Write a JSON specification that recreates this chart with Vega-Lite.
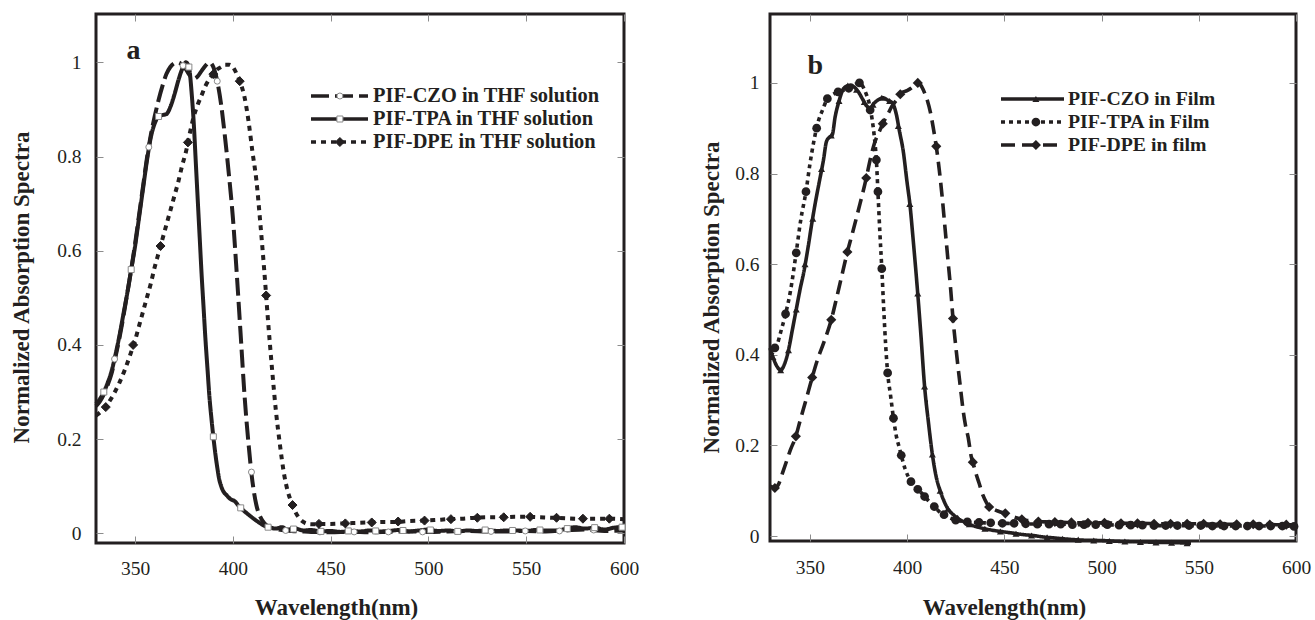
{
  "$schema": "https://vega.github.io/schema/vega-lite/v6.json",
  "background": "white",
  "padding": {"left": 8, "top": 12, "right": 5, "bottom": 2},
  "config": {
    "view": {"stroke": "#231f20", "strokeWidth": 3},
    "axis": {"domain": false, "grid": false, "tickColor": "#8c8c8c", "tickWidth": 1, "tickSize": -7, "labelFont": "Liberation Serif", "labelFontSize": 19.5, "labelColor": "#231f20", "titleFont": "Liberation Serif", "titleFontSize": 23, "titleFontWeight": "bold", "titleColor": "#231f20", "labelFlush": false, "labelOverlap": false},
    "legend": {"labelFont": "Liberation Serif", "labelFontSize": 19.8, "labelFontWeight": "bold", "labelColor": "#231f20", "labelLimit": 500, "padding": 0, "rowPadding": 0, "clipHeight": 23}
  },
  "spacing": 146,
  "bounds": "flush",
  "resolve": {
    "scale": {"x": "independent", "y": "independent", "strokeDash": "independent", "shape": "independent", "fill": "independent", "stroke": "independent"},
    "legend": {"strokeDash": "independent", "shape": "independent", "fill": "independent", "stroke": "independent"},
    "axis": {"x": "independent", "y": "independent"}
  },
  "hconcat": [
    {
      "width": 528,
      "height": 529,
      "resolve": {"axis": {"x": "independent", "y": "independent"}},
      "layer": [
        {
          "data": {"name": "aLines"},
          "mark": {"type": "line", "color": "#231f20", "strokeWidth": 4, "interpolate": "monotone", "strokeCap": "butt"},
          "encoding": {
            "x": {"field": "wavelength", "type": "quantitative", "scale": {"domain": [330, 600], "nice": false, "zero": false},
              "axis": {"orient": "bottom", "values": [350, 400, 450, 500, 550, 600], "title": "Wavelength(nm)", "titleX": 240, "titleY": 71, "titleBaseline": "alphabetic", "labelPadding": 23}},
            "y": {"field": "absorbance", "type": "quantitative", "scale": {"domain": [-0.0206, 1.1026], "nice": false, "zero": false},
              "axis": {"orient": "left", "values": [0, 0.2, 0.4, 0.6, 0.8, 1], "format": "~g", "title": "Normalized Absorption Spectra", "titleX": -75, "titleY": 273, "titleBaseline": "middle", "labelPadding": 22}},
            "strokeDash": {"field": "series", "type": "nominal",
              "sort": ["PIF-CZO in THF solution", "PIF-TPA in THF solution", "PIF-DPE in THF solution"],
              "scale": {"range": [[18, 6], [1, 0], [5, 5]]},
              "legend": {"orient": "none", "legendX": 213, "legendY": 70.5, "title": null, "symbolType": "stroke", "symbolSize": 3249, "symbolStrokeWidth": 3.5, "symbolStrokeColor": "#231f20", "labelOffset": 3, "labelFontSize": 20.4}}
          }
        },
        {
          "data": {"name": "aMarks"},
          "mark": {"type": "point", "filled": true, "opacity": 1, "strokeWidth": 1, "size": 36},
          "encoding": {
            "x": {"field": "wavelength", "type": "quantitative", "scale": {"domain": [330, 600], "nice": false, "zero": false},
              "axis": {"orient": "top", "values": [350, 400, 450, 500, 550, 600], "labels": false, "title": "a", "titleX": 30, "titleY": 44, "titleAlign": "left", "titleBaseline": "alphabetic", "titleFontSize": 28}},
            "y": {"field": "absorbance", "type": "quantitative", "scale": {"domain": [-0.0206, 1.1026], "nice": false, "zero": false},
              "axis": {"orient": "right", "values": [0, 0.2, 0.4, 0.6, 0.8, 1], "labels": false, "title": null}},
            "shape": {"field": "curve", "type": "nominal",
              "scale": {"domain": ["PIF-CZO in THF solution", "PIF-TPA in THF solution", "PIF-DPE in THF solution"], "range": ["circle", "square", "M0,-1.5L1.5,0L0,1.5L-1.5,0Z"]},
              "legend": {"orient": "none", "legendX": 234, "legendY": 70.5, "title": null, "labelExpr": "''", "symbolSize": 36, "symbolStrokeWidth": 1}},
            "fill": {"field": "curve", "type": "nominal",
              "scale": {"domain": ["PIF-CZO in THF solution", "PIF-TPA in THF solution", "PIF-DPE in THF solution"], "range": ["#ffffff", "#ffffff", "#231f20"]}},
            "stroke": {"field": "curve", "type": "nominal",
              "scale": {"domain": ["PIF-CZO in THF solution", "PIF-TPA in THF solution", "PIF-DPE in THF solution"], "range": ["#8a8a8a", "#8a8a8a", "#231f20"]}}
          }
        }
      ]
    },
    {
      "width": 526,
      "height": 527,
      "resolve": {"axis": {"x": "independent", "y": "independent"}},
      "layer": [
        {
          "data": {"name": "bLines"},
          "mark": {"type": "line", "color": "#231f20", "strokeWidth": 3.6, "interpolate": "monotone", "strokeCap": "butt"},
          "encoding": {
            "x": {"field": "wavelength", "type": "quantitative", "scale": {"domain": [329.5, 600], "nice": false, "zero": false},
              "axis": {"orient": "bottom", "values": [350, 400, 450, 500, 550, 600], "title": "Wavelength(nm)", "titleX": 234, "titleY": 73, "titleBaseline": "alphabetic", "labelPadding": 24}},
            "y": {"field": "absorbance", "type": "quantitative", "scale": {"domain": [-0.011, 1.152], "nice": false, "zero": false},
              "axis": {"orient": "left", "values": [0, 0.2, 0.4, 0.6, 0.8, 1], "format": "~g", "title": "Normalized Absorption Spectra", "titleX": -59, "titleY": 283, "titleBaseline": "middle", "labelPadding": 18}},
            "strokeDash": {"field": "series", "type": "nominal",
              "scale": {"domain": ["PIF-CZO in Film", "PIF-TPA in Film", "PIF-DPE in film"], "range": [[1, 0], [4, 4], [14, 7]]},
              "legend": {"orient": "none", "legendX": 229, "legendY": 73.5, "title": null, "symbolType": "stroke", "symbolSize": 3969, "symbolStrokeWidth": 3.5, "symbolStrokeColor": "#231f20", "labelOffset": 2}}
          }
        },
        {
          "data": {"name": "bMarks"},
          "mark": {"type": "point", "filled": true, "opacity": 1, "color": "#231f20", "size": 49},
          "encoding": {
            "x": {"field": "wavelength", "type": "quantitative", "scale": {"domain": [329.5, 600], "nice": false, "zero": false},
              "axis": {"orient": "top", "values": [350, 400, 450, 500, 550, 600], "labels": false, "title": "b", "titleX": 37, "titleY": 59, "titleAlign": "left", "titleBaseline": "alphabetic", "titleFontSize": 28}},
            "y": {"field": "absorbance", "type": "quantitative", "scale": {"domain": [-0.011, 1.152], "nice": false, "zero": false},
              "axis": {"orient": "right", "values": [0, 0.2, 0.4, 0.6, 0.8, 1], "labels": false, "title": null}},
            "shape": {"field": "curve", "type": "nominal", "sort": ["PIF-CZO in Film", "PIF-TPA in Film", "PIF-DPE in film"],
              "scale": {"range": ["triangle-up", "M1.25,0A1.25,1.25,0,1,1,-1.25,0A1.25,1.25,0,1,1,1.25,0Z", "M0,-1.45L1.45,0L0,1.45L-1.45,0Z"]},
              "legend": {"orient": "none", "legendX": 256, "legendY": 73.5, "title": null, "labelExpr": "''", "symbolSize": 49, "symbolFillColor": "#231f20", "symbolStrokeWidth": 0}}
          }
        }
      ]
    }
  ],
  "datasets": {
    "aLines": [
      {"series": "PIF-CZO in THF solution", "wavelength": 330, "absorbance": 0.27},
      {"series": "PIF-CZO in THF solution", "wavelength": 332, "absorbance": 0.28},
      {"series": "PIF-CZO in THF solution", "wavelength": 334, "absorbance": 0.295},
      {"series": "PIF-CZO in THF solution", "wavelength": 336, "absorbance": 0.315},
      {"series": "PIF-CZO in THF solution", "wavelength": 338, "absorbance": 0.34},
      {"series": "PIF-CZO in THF solution", "wavelength": 340, "absorbance": 0.375},
      {"series": "PIF-CZO in THF solution", "wavelength": 342, "absorbance": 0.415},
      {"series": "PIF-CZO in THF solution", "wavelength": 344, "absorbance": 0.46},
      {"series": "PIF-CZO in THF solution", "wavelength": 346, "absorbance": 0.51},
      {"series": "PIF-CZO in THF solution", "wavelength": 348, "absorbance": 0.56},
      {"series": "PIF-CZO in THF solution", "wavelength": 350, "absorbance": 0.615},
      {"series": "PIF-CZO in THF solution", "wavelength": 352, "absorbance": 0.675},
      {"series": "PIF-CZO in THF solution", "wavelength": 354, "absorbance": 0.735},
      {"series": "PIF-CZO in THF solution", "wavelength": 356, "absorbance": 0.795},
      {"series": "PIF-CZO in THF solution", "wavelength": 358, "absorbance": 0.845},
      {"series": "PIF-CZO in THF solution", "wavelength": 360, "absorbance": 0.885},
      {"series": "PIF-CZO in THF solution", "wavelength": 362, "absorbance": 0.92},
      {"series": "PIF-CZO in THF solution", "wavelength": 364, "absorbance": 0.95},
      {"series": "PIF-CZO in THF solution", "wavelength": 366, "absorbance": 0.975},
      {"series": "PIF-CZO in THF solution", "wavelength": 368, "absorbance": 0.99},
      {"series": "PIF-CZO in THF solution", "wavelength": 370, "absorbance": 0.998},
      {"series": "PIF-CZO in THF solution", "wavelength": 372, "absorbance": 1.0},
      {"series": "PIF-CZO in THF solution", "wavelength": 374, "absorbance": 0.995},
      {"series": "PIF-CZO in THF solution", "wavelength": 376, "absorbance": 0.985},
      {"series": "PIF-CZO in THF solution", "wavelength": 378, "absorbance": 0.972},
      {"series": "PIF-CZO in THF solution", "wavelength": 380, "absorbance": 0.965},
      {"series": "PIF-CZO in THF solution", "wavelength": 382, "absorbance": 0.97},
      {"series": "PIF-CZO in THF solution", "wavelength": 384, "absorbance": 0.982},
      {"series": "PIF-CZO in THF solution", "wavelength": 386, "absorbance": 0.993},
      {"series": "PIF-CZO in THF solution", "wavelength": 388, "absorbance": 1.0},
      {"series": "PIF-CZO in THF solution", "wavelength": 390, "absorbance": 0.99},
      {"series": "PIF-CZO in THF solution", "wavelength": 392, "absorbance": 0.96},
      {"series": "PIF-CZO in THF solution", "wavelength": 394, "absorbance": 0.91},
      {"series": "PIF-CZO in THF solution", "wavelength": 396, "absorbance": 0.84},
      {"series": "PIF-CZO in THF solution", "wavelength": 398, "absorbance": 0.76},
      {"series": "PIF-CZO in THF solution", "wavelength": 400, "absorbance": 0.67},
      {"series": "PIF-CZO in THF solution", "wavelength": 402, "absorbance": 0.55},
      {"series": "PIF-CZO in THF solution", "wavelength": 404, "absorbance": 0.42},
      {"series": "PIF-CZO in THF solution", "wavelength": 406, "absorbance": 0.29},
      {"series": "PIF-CZO in THF solution", "wavelength": 408, "absorbance": 0.19},
      {"series": "PIF-CZO in THF solution", "wavelength": 410, "absorbance": 0.11},
      {"series": "PIF-CZO in THF solution", "wavelength": 412, "absorbance": 0.06},
      {"series": "PIF-CZO in THF solution", "wavelength": 414, "absorbance": 0.035},
      {"series": "PIF-CZO in THF solution", "wavelength": 416, "absorbance": 0.022},
      {"series": "PIF-CZO in THF solution", "wavelength": 418, "absorbance": 0.015},
      {"series": "PIF-CZO in THF solution", "wavelength": 421, "absorbance": 0.01},
      {"series": "PIF-CZO in THF solution", "wavelength": 425, "absorbance": 0.007},
      {"series": "PIF-CZO in THF solution", "wavelength": 430, "absorbance": 0.005},
      {"series": "PIF-CZO in THF solution", "wavelength": 435, "absorbance": 0.004},
      {"series": "PIF-CZO in THF solution", "wavelength": 440, "absorbance": 0.003},
      {"series": "PIF-CZO in THF solution", "wavelength": 445, "absorbance": 0.003},
      {"series": "PIF-CZO in THF solution", "wavelength": 450, "absorbance": 0.002},
      {"series": "PIF-CZO in THF solution", "wavelength": 460, "absorbance": 0.003},
      {"series": "PIF-CZO in THF solution", "wavelength": 470, "absorbance": 0.002},
      {"series": "PIF-CZO in THF solution", "wavelength": 480, "absorbance": 0.003},
      {"series": "PIF-CZO in THF solution", "wavelength": 490, "absorbance": 0.004},
      {"series": "PIF-CZO in THF solution", "wavelength": 500, "absorbance": 0.003},
      {"series": "PIF-CZO in THF solution", "wavelength": 510, "absorbance": 0.004},
      {"series": "PIF-CZO in THF solution", "wavelength": 520, "absorbance": 0.005},
      {"series": "PIF-CZO in THF solution", "wavelength": 530, "absorbance": 0.004},
      {"series": "PIF-CZO in THF solution", "wavelength": 540, "absorbance": 0.004},
      {"series": "PIF-CZO in THF solution", "wavelength": 550, "absorbance": 0.005},
      {"series": "PIF-CZO in THF solution", "wavelength": 560, "absorbance": 0.004},
      {"series": "PIF-CZO in THF solution", "wavelength": 570, "absorbance": 0.006},
      {"series": "PIF-CZO in THF solution", "wavelength": 580, "absorbance": 0.008},
      {"series": "PIF-CZO in THF solution", "wavelength": 590, "absorbance": 0.005},
      {"series": "PIF-CZO in THF solution", "wavelength": 600, "absorbance": 0.006},
      {"series": "PIF-TPA in THF solution", "wavelength": 330, "absorbance": 0.275},
      {"series": "PIF-TPA in THF solution", "wavelength": 332, "absorbance": 0.285},
      {"series": "PIF-TPA in THF solution", "wavelength": 334, "absorbance": 0.3},
      {"series": "PIF-TPA in THF solution", "wavelength": 336, "absorbance": 0.32},
      {"series": "PIF-TPA in THF solution", "wavelength": 338, "absorbance": 0.345},
      {"series": "PIF-TPA in THF solution", "wavelength": 340, "absorbance": 0.38},
      {"series": "PIF-TPA in THF solution", "wavelength": 342, "absorbance": 0.42},
      {"series": "PIF-TPA in THF solution", "wavelength": 344, "absorbance": 0.465},
      {"series": "PIF-TPA in THF solution", "wavelength": 346, "absorbance": 0.51},
      {"series": "PIF-TPA in THF solution", "wavelength": 348, "absorbance": 0.56},
      {"series": "PIF-TPA in THF solution", "wavelength": 350, "absorbance": 0.61},
      {"series": "PIF-TPA in THF solution", "wavelength": 352, "absorbance": 0.67},
      {"series": "PIF-TPA in THF solution", "wavelength": 354, "absorbance": 0.73},
      {"series": "PIF-TPA in THF solution", "wavelength": 356, "absorbance": 0.79},
      {"series": "PIF-TPA in THF solution", "wavelength": 358, "absorbance": 0.84},
      {"series": "PIF-TPA in THF solution", "wavelength": 360, "absorbance": 0.87},
      {"series": "PIF-TPA in THF solution", "wavelength": 362, "absorbance": 0.885},
      {"series": "PIF-TPA in THF solution", "wavelength": 364, "absorbance": 0.888},
      {"series": "PIF-TPA in THF solution", "wavelength": 366, "absorbance": 0.89},
      {"series": "PIF-TPA in THF solution", "wavelength": 368, "absorbance": 0.905},
      {"series": "PIF-TPA in THF solution", "wavelength": 370, "absorbance": 0.93},
      {"series": "PIF-TPA in THF solution", "wavelength": 372, "absorbance": 0.96},
      {"series": "PIF-TPA in THF solution", "wavelength": 374, "absorbance": 0.985},
      {"series": "PIF-TPA in THF solution", "wavelength": 376, "absorbance": 1.0},
      {"series": "PIF-TPA in THF solution", "wavelength": 377.5, "absorbance": 0.99},
      {"series": "PIF-TPA in THF solution", "wavelength": 379, "absorbance": 0.93},
      {"series": "PIF-TPA in THF solution", "wavelength": 380, "absorbance": 0.87},
      {"series": "PIF-TPA in THF solution", "wavelength": 381, "absorbance": 0.79},
      {"series": "PIF-TPA in THF solution", "wavelength": 382, "absorbance": 0.71},
      {"series": "PIF-TPA in THF solution", "wavelength": 383, "absorbance": 0.63},
      {"series": "PIF-TPA in THF solution", "wavelength": 384, "absorbance": 0.55},
      {"series": "PIF-TPA in THF solution", "wavelength": 385, "absorbance": 0.48},
      {"series": "PIF-TPA in THF solution", "wavelength": 386, "absorbance": 0.41},
      {"series": "PIF-TPA in THF solution", "wavelength": 387, "absorbance": 0.35},
      {"series": "PIF-TPA in THF solution", "wavelength": 388, "absorbance": 0.29},
      {"series": "PIF-TPA in THF solution", "wavelength": 389, "absorbance": 0.245},
      {"series": "PIF-TPA in THF solution", "wavelength": 390, "absorbance": 0.205},
      {"series": "PIF-TPA in THF solution", "wavelength": 391, "absorbance": 0.17},
      {"series": "PIF-TPA in THF solution", "wavelength": 392, "absorbance": 0.14},
      {"series": "PIF-TPA in THF solution", "wavelength": 393, "absorbance": 0.115},
      {"series": "PIF-TPA in THF solution", "wavelength": 394, "absorbance": 0.1},
      {"series": "PIF-TPA in THF solution", "wavelength": 395, "absorbance": 0.09},
      {"series": "PIF-TPA in THF solution", "wavelength": 397, "absorbance": 0.08},
      {"series": "PIF-TPA in THF solution", "wavelength": 399, "absorbance": 0.072},
      {"series": "PIF-TPA in THF solution", "wavelength": 401, "absorbance": 0.068},
      {"series": "PIF-TPA in THF solution", "wavelength": 403, "absorbance": 0.058},
      {"series": "PIF-TPA in THF solution", "wavelength": 405, "absorbance": 0.05},
      {"series": "PIF-TPA in THF solution", "wavelength": 407, "absorbance": 0.043},
      {"series": "PIF-TPA in THF solution", "wavelength": 410, "absorbance": 0.033},
      {"series": "PIF-TPA in THF solution", "wavelength": 413, "absorbance": 0.024},
      {"series": "PIF-TPA in THF solution", "wavelength": 416, "absorbance": 0.016},
      {"series": "PIF-TPA in THF solution", "wavelength": 419, "absorbance": 0.012},
      {"series": "PIF-TPA in THF solution", "wavelength": 422, "absorbance": 0.01},
      {"series": "PIF-TPA in THF solution", "wavelength": 425, "absorbance": 0.013},
      {"series": "PIF-TPA in THF solution", "wavelength": 428, "absorbance": 0.008},
      {"series": "PIF-TPA in THF solution", "wavelength": 432, "absorbance": 0.01},
      {"series": "PIF-TPA in THF solution", "wavelength": 436, "absorbance": 0.006},
      {"series": "PIF-TPA in THF solution", "wavelength": 440, "absorbance": 0.007},
      {"series": "PIF-TPA in THF solution", "wavelength": 445, "absorbance": 0.004},
      {"series": "PIF-TPA in THF solution", "wavelength": 450, "absorbance": 0.005},
      {"series": "PIF-TPA in THF solution", "wavelength": 455, "absorbance": 0.003},
      {"series": "PIF-TPA in THF solution", "wavelength": 460, "absorbance": 0.005},
      {"series": "PIF-TPA in THF solution", "wavelength": 465, "absorbance": 0.004},
      {"series": "PIF-TPA in THF solution", "wavelength": 470, "absorbance": 0.006},
      {"series": "PIF-TPA in THF solution", "wavelength": 475, "absorbance": 0.004},
      {"series": "PIF-TPA in THF solution", "wavelength": 480, "absorbance": 0.005},
      {"series": "PIF-TPA in THF solution", "wavelength": 485, "absorbance": 0.007},
      {"series": "PIF-TPA in THF solution", "wavelength": 490, "absorbance": 0.004},
      {"series": "PIF-TPA in THF solution", "wavelength": 495, "absorbance": 0.006},
      {"series": "PIF-TPA in THF solution", "wavelength": 500, "absorbance": 0.008},
      {"series": "PIF-TPA in THF solution", "wavelength": 505, "absorbance": 0.005},
      {"series": "PIF-TPA in THF solution", "wavelength": 510, "absorbance": 0.006},
      {"series": "PIF-TPA in THF solution", "wavelength": 515, "absorbance": 0.004},
      {"series": "PIF-TPA in THF solution", "wavelength": 520, "absorbance": 0.006},
      {"series": "PIF-TPA in THF solution", "wavelength": 525, "absorbance": 0.005},
      {"series": "PIF-TPA in THF solution", "wavelength": 530, "absorbance": 0.007},
      {"series": "PIF-TPA in THF solution", "wavelength": 535, "absorbance": 0.005},
      {"series": "PIF-TPA in THF solution", "wavelength": 540, "absorbance": 0.006},
      {"series": "PIF-TPA in THF solution", "wavelength": 545, "absorbance": 0.006},
      {"series": "PIF-TPA in THF solution", "wavelength": 550, "absorbance": 0.005},
      {"series": "PIF-TPA in THF solution", "wavelength": 555, "absorbance": 0.007},
      {"series": "PIF-TPA in THF solution", "wavelength": 560, "absorbance": 0.006},
      {"series": "PIF-TPA in THF solution", "wavelength": 565, "absorbance": 0.006},
      {"series": "PIF-TPA in THF solution", "wavelength": 570, "absorbance": 0.009},
      {"series": "PIF-TPA in THF solution", "wavelength": 575, "absorbance": 0.013},
      {"series": "PIF-TPA in THF solution", "wavelength": 580, "absorbance": 0.01},
      {"series": "PIF-TPA in THF solution", "wavelength": 585, "absorbance": 0.012},
      {"series": "PIF-TPA in THF solution", "wavelength": 590, "absorbance": 0.008},
      {"series": "PIF-TPA in THF solution", "wavelength": 595, "absorbance": 0.012},
      {"series": "PIF-TPA in THF solution", "wavelength": 600, "absorbance": 0.014},
      {"series": "PIF-DPE in THF solution", "wavelength": 330, "absorbance": 0.25},
      {"series": "PIF-DPE in THF solution", "wavelength": 333, "absorbance": 0.26},
      {"series": "PIF-DPE in THF solution", "wavelength": 336, "absorbance": 0.275},
      {"series": "PIF-DPE in THF solution", "wavelength": 339, "absorbance": 0.295},
      {"series": "PIF-DPE in THF solution", "wavelength": 342, "absorbance": 0.32},
      {"series": "PIF-DPE in THF solution", "wavelength": 345, "absorbance": 0.35},
      {"series": "PIF-DPE in THF solution", "wavelength": 348, "absorbance": 0.385},
      {"series": "PIF-DPE in THF solution", "wavelength": 350, "absorbance": 0.41},
      {"series": "PIF-DPE in THF solution", "wavelength": 352, "absorbance": 0.44},
      {"series": "PIF-DPE in THF solution", "wavelength": 354, "absorbance": 0.47},
      {"series": "PIF-DPE in THF solution", "wavelength": 356, "absorbance": 0.5},
      {"series": "PIF-DPE in THF solution", "wavelength": 358, "absorbance": 0.53},
      {"series": "PIF-DPE in THF solution", "wavelength": 360, "absorbance": 0.565},
      {"series": "PIF-DPE in THF solution", "wavelength": 362, "absorbance": 0.595},
      {"series": "PIF-DPE in THF solution", "wavelength": 364, "absorbance": 0.625},
      {"series": "PIF-DPE in THF solution", "wavelength": 366, "absorbance": 0.655},
      {"series": "PIF-DPE in THF solution", "wavelength": 368, "absorbance": 0.685},
      {"series": "PIF-DPE in THF solution", "wavelength": 370, "absorbance": 0.715},
      {"series": "PIF-DPE in THF solution", "wavelength": 372, "absorbance": 0.745},
      {"series": "PIF-DPE in THF solution", "wavelength": 374, "absorbance": 0.78},
      {"series": "PIF-DPE in THF solution", "wavelength": 376, "absorbance": 0.81},
      {"series": "PIF-DPE in THF solution", "wavelength": 378, "absorbance": 0.85},
      {"series": "PIF-DPE in THF solution", "wavelength": 380, "absorbance": 0.885},
      {"series": "PIF-DPE in THF solution", "wavelength": 382, "absorbance": 0.91},
      {"series": "PIF-DPE in THF solution", "wavelength": 384, "absorbance": 0.93},
      {"series": "PIF-DPE in THF solution", "wavelength": 386, "absorbance": 0.95},
      {"series": "PIF-DPE in THF solution", "wavelength": 388, "absorbance": 0.965},
      {"series": "PIF-DPE in THF solution", "wavelength": 390, "absorbance": 0.975},
      {"series": "PIF-DPE in THF solution", "wavelength": 392, "absorbance": 0.985},
      {"series": "PIF-DPE in THF solution", "wavelength": 394, "absorbance": 0.99},
      {"series": "PIF-DPE in THF solution", "wavelength": 396, "absorbance": 0.995},
      {"series": "PIF-DPE in THF solution", "wavelength": 398, "absorbance": 0.995},
      {"series": "PIF-DPE in THF solution", "wavelength": 400, "absorbance": 0.99},
      {"series": "PIF-DPE in THF solution", "wavelength": 402, "absorbance": 0.975},
      {"series": "PIF-DPE in THF solution", "wavelength": 404, "absorbance": 0.955},
      {"series": "PIF-DPE in THF solution", "wavelength": 406, "absorbance": 0.925},
      {"series": "PIF-DPE in THF solution", "wavelength": 408, "absorbance": 0.875},
      {"series": "PIF-DPE in THF solution", "wavelength": 410, "absorbance": 0.81},
      {"series": "PIF-DPE in THF solution", "wavelength": 412, "absorbance": 0.75},
      {"series": "PIF-DPE in THF solution", "wavelength": 414, "absorbance": 0.66},
      {"series": "PIF-DPE in THF solution", "wavelength": 416, "absorbance": 0.56},
      {"series": "PIF-DPE in THF solution", "wavelength": 418, "absorbance": 0.45},
      {"series": "PIF-DPE in THF solution", "wavelength": 420, "absorbance": 0.35},
      {"series": "PIF-DPE in THF solution", "wavelength": 422, "absorbance": 0.26},
      {"series": "PIF-DPE in THF solution", "wavelength": 424, "absorbance": 0.19},
      {"series": "PIF-DPE in THF solution", "wavelength": 426, "absorbance": 0.13},
      {"series": "PIF-DPE in THF solution", "wavelength": 428, "absorbance": 0.09},
      {"series": "PIF-DPE in THF solution", "wavelength": 430, "absorbance": 0.065},
      {"series": "PIF-DPE in THF solution", "wavelength": 432, "absorbance": 0.045},
      {"series": "PIF-DPE in THF solution", "wavelength": 434, "absorbance": 0.032},
      {"series": "PIF-DPE in THF solution", "wavelength": 436, "absorbance": 0.024},
      {"series": "PIF-DPE in THF solution", "wavelength": 438, "absorbance": 0.02},
      {"series": "PIF-DPE in THF solution", "wavelength": 440, "absorbance": 0.019},
      {"series": "PIF-DPE in THF solution", "wavelength": 445, "absorbance": 0.02},
      {"series": "PIF-DPE in THF solution", "wavelength": 450, "absorbance": 0.02},
      {"series": "PIF-DPE in THF solution", "wavelength": 456, "absorbance": 0.021},
      {"series": "PIF-DPE in THF solution", "wavelength": 463, "absorbance": 0.022},
      {"series": "PIF-DPE in THF solution", "wavelength": 470, "absorbance": 0.023},
      {"series": "PIF-DPE in THF solution", "wavelength": 477, "absorbance": 0.024},
      {"series": "PIF-DPE in THF solution", "wavelength": 483, "absorbance": 0.024},
      {"series": "PIF-DPE in THF solution", "wavelength": 490, "absorbance": 0.026},
      {"series": "PIF-DPE in THF solution", "wavelength": 497, "absorbance": 0.027},
      {"series": "PIF-DPE in THF solution", "wavelength": 503, "absorbance": 0.028},
      {"series": "PIF-DPE in THF solution", "wavelength": 510, "absorbance": 0.03},
      {"series": "PIF-DPE in THF solution", "wavelength": 517, "absorbance": 0.031},
      {"series": "PIF-DPE in THF solution", "wavelength": 524, "absorbance": 0.033},
      {"series": "PIF-DPE in THF solution", "wavelength": 531, "absorbance": 0.034},
      {"series": "PIF-DPE in THF solution", "wavelength": 538, "absorbance": 0.034},
      {"series": "PIF-DPE in THF solution", "wavelength": 544, "absorbance": 0.035},
      {"series": "PIF-DPE in THF solution", "wavelength": 550, "absorbance": 0.035},
      {"series": "PIF-DPE in THF solution", "wavelength": 557, "absorbance": 0.034},
      {"series": "PIF-DPE in THF solution", "wavelength": 564, "absorbance": 0.033},
      {"series": "PIF-DPE in THF solution", "wavelength": 570, "absorbance": 0.032},
      {"series": "PIF-DPE in THF solution", "wavelength": 577, "absorbance": 0.031},
      {"series": "PIF-DPE in THF solution", "wavelength": 584, "absorbance": 0.031},
      {"series": "PIF-DPE in THF solution", "wavelength": 592, "absorbance": 0.031},
      {"series": "PIF-DPE in THF solution", "wavelength": 600, "absorbance": 0.03}
    ],
    "aMarks": [
      {"curve": "PIF-CZO in THF solution", "wavelength": 339.5, "absorbance": 0.37},
      {"curve": "PIF-CZO in THF solution", "wavelength": 357, "absorbance": 0.82},
      {"curve": "PIF-CZO in THF solution", "wavelength": 374.5, "absorbance": 0.993},
      {"curve": "PIF-CZO in THF solution", "wavelength": 392, "absorbance": 0.96},
      {"curve": "PIF-CZO in THF solution", "wavelength": 409.5, "absorbance": 0.13},
      {"curve": "PIF-CZO in THF solution", "wavelength": 427, "absorbance": 0.006},
      {"curve": "PIF-CZO in THF solution", "wavelength": 444.5, "absorbance": 0.003},
      {"curve": "PIF-CZO in THF solution", "wavelength": 462, "absorbance": 0.003},
      {"curve": "PIF-CZO in THF solution", "wavelength": 479.5, "absorbance": 0.003},
      {"curve": "PIF-CZO in THF solution", "wavelength": 497, "absorbance": 0.003},
      {"curve": "PIF-CZO in THF solution", "wavelength": 514.5, "absorbance": 0.004},
      {"curve": "PIF-CZO in THF solution", "wavelength": 532, "absorbance": 0.004},
      {"curve": "PIF-CZO in THF solution", "wavelength": 549.5, "absorbance": 0.005},
      {"curve": "PIF-CZO in THF solution", "wavelength": 567, "absorbance": 0.005},
      {"curve": "PIF-CZO in THF solution", "wavelength": 584.5, "absorbance": 0.007},
      {"curve": "PIF-TPA in THF solution", "wavelength": 334, "absorbance": 0.3},
      {"curve": "PIF-TPA in THF solution", "wavelength": 348, "absorbance": 0.56},
      {"curve": "PIF-TPA in THF solution", "wavelength": 362, "absorbance": 0.885},
      {"curve": "PIF-TPA in THF solution", "wavelength": 377.5, "absorbance": 0.99},
      {"curve": "PIF-TPA in THF solution", "wavelength": 390, "absorbance": 0.205},
      {"curve": "PIF-TPA in THF solution", "wavelength": 404, "absorbance": 0.054},
      {"curve": "PIF-TPA in THF solution", "wavelength": 418, "absorbance": 0.013},
      {"curve": "PIF-TPA in THF solution", "wavelength": 431, "absorbance": 0.009},
      {"curve": "PIF-TPA in THF solution", "wavelength": 445, "absorbance": 0.004},
      {"curve": "PIF-TPA in THF solution", "wavelength": 459, "absorbance": 0.005},
      {"curve": "PIF-TPA in THF solution", "wavelength": 473, "absorbance": 0.005},
      {"curve": "PIF-TPA in THF solution", "wavelength": 487, "absorbance": 0.006},
      {"curve": "PIF-TPA in THF solution", "wavelength": 501, "absorbance": 0.007},
      {"curve": "PIF-TPA in THF solution", "wavelength": 515, "absorbance": 0.004},
      {"curve": "PIF-TPA in THF solution", "wavelength": 529, "absorbance": 0.007},
      {"curve": "PIF-TPA in THF solution", "wavelength": 543, "absorbance": 0.006},
      {"curve": "PIF-TPA in THF solution", "wavelength": 557, "absorbance": 0.007},
      {"curve": "PIF-TPA in THF solution", "wavelength": 571, "absorbance": 0.01},
      {"curve": "PIF-TPA in THF solution", "wavelength": 585, "absorbance": 0.012},
      {"curve": "PIF-TPA in THF solution", "wavelength": 599, "absorbance": 0.013},
      {"curve": "PIF-DPE in THF solution", "wavelength": 335, "absorbance": 0.268},
      {"curve": "PIF-DPE in THF solution", "wavelength": 349, "absorbance": 0.4},
      {"curve": "PIF-DPE in THF solution", "wavelength": 363, "absorbance": 0.61},
      {"curve": "PIF-DPE in THF solution", "wavelength": 377, "absorbance": 0.83},
      {"curve": "PIF-DPE in THF solution", "wavelength": 390, "absorbance": 0.975},
      {"curve": "PIF-DPE in THF solution", "wavelength": 403.5, "absorbance": 0.96},
      {"curve": "PIF-DPE in THF solution", "wavelength": 417, "absorbance": 0.505},
      {"curve": "PIF-DPE in THF solution", "wavelength": 430.5, "absorbance": 0.06},
      {"curve": "PIF-DPE in THF solution", "wavelength": 444, "absorbance": 0.02},
      {"curve": "PIF-DPE in THF solution", "wavelength": 457.5, "absorbance": 0.021},
      {"curve": "PIF-DPE in THF solution", "wavelength": 471, "absorbance": 0.023},
      {"curve": "PIF-DPE in THF solution", "wavelength": 484.5, "absorbance": 0.025},
      {"curve": "PIF-DPE in THF solution", "wavelength": 498, "absorbance": 0.027},
      {"curve": "PIF-DPE in THF solution", "wavelength": 511.5, "absorbance": 0.03},
      {"curve": "PIF-DPE in THF solution", "wavelength": 525, "absorbance": 0.033},
      {"curve": "PIF-DPE in THF solution", "wavelength": 538.5, "absorbance": 0.034},
      {"curve": "PIF-DPE in THF solution", "wavelength": 552, "absorbance": 0.035},
      {"curve": "PIF-DPE in THF solution", "wavelength": 565.5, "absorbance": 0.033},
      {"curve": "PIF-DPE in THF solution", "wavelength": 579, "absorbance": 0.031},
      {"curve": "PIF-DPE in THF solution", "wavelength": 592.5, "absorbance": 0.031}
    ],
    "bLines": [
      {"series": "PIF-CZO in Film", "wavelength": 329.5, "absorbance": 0.415},
      {"series": "PIF-CZO in Film", "wavelength": 331, "absorbance": 0.395},
      {"series": "PIF-CZO in Film", "wavelength": 333, "absorbance": 0.375},
      {"series": "PIF-CZO in Film", "wavelength": 335, "absorbance": 0.366},
      {"series": "PIF-CZO in Film", "wavelength": 337, "absorbance": 0.38},
      {"series": "PIF-CZO in Film", "wavelength": 339, "absorbance": 0.41},
      {"series": "PIF-CZO in Film", "wavelength": 341, "absorbance": 0.455},
      {"series": "PIF-CZO in Film", "wavelength": 343, "absorbance": 0.5},
      {"series": "PIF-CZO in Film", "wavelength": 345, "absorbance": 0.545},
      {"series": "PIF-CZO in Film", "wavelength": 347, "absorbance": 0.585},
      {"series": "PIF-CZO in Film", "wavelength": 349, "absorbance": 0.635},
      {"series": "PIF-CZO in Film", "wavelength": 351, "absorbance": 0.69},
      {"series": "PIF-CZO in Film", "wavelength": 353, "absorbance": 0.74},
      {"series": "PIF-CZO in Film", "wavelength": 355, "absorbance": 0.785},
      {"series": "PIF-CZO in Film", "wavelength": 357, "absorbance": 0.83},
      {"series": "PIF-CZO in Film", "wavelength": 358.5, "absorbance": 0.87},
      {"series": "PIF-CZO in Film", "wavelength": 360, "absorbance": 0.88},
      {"series": "PIF-CZO in Film", "wavelength": 361.5, "absorbance": 0.885},
      {"series": "PIF-CZO in Film", "wavelength": 363, "absorbance": 0.925},
      {"series": "PIF-CZO in Film", "wavelength": 365, "absorbance": 0.96},
      {"series": "PIF-CZO in Film", "wavelength": 367, "absorbance": 0.985},
      {"series": "PIF-CZO in Film", "wavelength": 369, "absorbance": 0.993},
      {"series": "PIF-CZO in Film", "wavelength": 371, "absorbance": 0.995},
      {"series": "PIF-CZO in Film", "wavelength": 373, "absorbance": 0.99},
      {"series": "PIF-CZO in Film", "wavelength": 375, "absorbance": 0.98},
      {"series": "PIF-CZO in Film", "wavelength": 377, "absorbance": 0.965},
      {"series": "PIF-CZO in Film", "wavelength": 379, "absorbance": 0.95},
      {"series": "PIF-CZO in Film", "wavelength": 381, "absorbance": 0.945},
      {"series": "PIF-CZO in Film", "wavelength": 383, "absorbance": 0.955},
      {"series": "PIF-CZO in Film", "wavelength": 385, "absorbance": 0.962},
      {"series": "PIF-CZO in Film", "wavelength": 387.5, "absorbance": 0.967},
      {"series": "PIF-CZO in Film", "wavelength": 390, "absorbance": 0.962},
      {"series": "PIF-CZO in Film", "wavelength": 392.5, "absorbance": 0.955},
      {"series": "PIF-CZO in Film", "wavelength": 394.5, "absorbance": 0.93},
      {"series": "PIF-CZO in Film", "wavelength": 396, "absorbance": 0.895},
      {"series": "PIF-CZO in Film", "wavelength": 398, "absorbance": 0.85},
      {"series": "PIF-CZO in Film", "wavelength": 400, "absorbance": 0.78},
      {"series": "PIF-CZO in Film", "wavelength": 401.5, "absorbance": 0.73},
      {"series": "PIF-CZO in Film", "wavelength": 403, "absorbance": 0.66},
      {"series": "PIF-CZO in Film", "wavelength": 405, "absorbance": 0.56},
      {"series": "PIF-CZO in Film", "wavelength": 407, "absorbance": 0.45},
      {"series": "PIF-CZO in Film", "wavelength": 409, "absorbance": 0.33},
      {"series": "PIF-CZO in Film", "wavelength": 411, "absorbance": 0.25},
      {"series": "PIF-CZO in Film", "wavelength": 413, "absorbance": 0.18},
      {"series": "PIF-CZO in Film", "wavelength": 415, "absorbance": 0.13},
      {"series": "PIF-CZO in Film", "wavelength": 417, "absorbance": 0.1},
      {"series": "PIF-CZO in Film", "wavelength": 419, "absorbance": 0.077},
      {"series": "PIF-CZO in Film", "wavelength": 421, "absorbance": 0.06},
      {"series": "PIF-CZO in Film", "wavelength": 424, "absorbance": 0.046},
      {"series": "PIF-CZO in Film", "wavelength": 428, "absorbance": 0.034},
      {"series": "PIF-CZO in Film", "wavelength": 432, "absorbance": 0.026},
      {"series": "PIF-CZO in Film", "wavelength": 436, "absorbance": 0.02},
      {"series": "PIF-CZO in Film", "wavelength": 440, "absorbance": 0.016},
      {"series": "PIF-CZO in Film", "wavelength": 445, "absorbance": 0.012},
      {"series": "PIF-CZO in Film", "wavelength": 450, "absorbance": 0.009},
      {"series": "PIF-CZO in Film", "wavelength": 455, "absorbance": 0.006},
      {"series": "PIF-CZO in Film", "wavelength": 460, "absorbance": 0.003},
      {"series": "PIF-CZO in Film", "wavelength": 465, "absorbance": 0.001},
      {"series": "PIF-CZO in Film", "wavelength": 470, "absorbance": -0.002},
      {"series": "PIF-CZO in Film", "wavelength": 475, "absorbance": -0.004},
      {"series": "PIF-CZO in Film", "wavelength": 480, "absorbance": -0.006},
      {"series": "PIF-CZO in Film", "wavelength": 490, "absorbance": -0.009},
      {"series": "PIF-CZO in Film", "wavelength": 500, "absorbance": -0.01},
      {"series": "PIF-CZO in Film", "wavelength": 510, "absorbance": -0.012},
      {"series": "PIF-CZO in Film", "wavelength": 520, "absorbance": -0.013},
      {"series": "PIF-CZO in Film", "wavelength": 530, "absorbance": -0.014},
      {"series": "PIF-CZO in Film", "wavelength": 540, "absorbance": -0.015},
      {"series": "PIF-CZO in Film", "wavelength": 546, "absorbance": -0.016},
      {"series": "PIF-TPA in Film", "wavelength": 329.5, "absorbance": 0.4},
      {"series": "PIF-TPA in Film", "wavelength": 331, "absorbance": 0.405},
      {"series": "PIF-TPA in Film", "wavelength": 333, "absorbance": 0.42},
      {"series": "PIF-TPA in Film", "wavelength": 335, "absorbance": 0.45},
      {"series": "PIF-TPA in Film", "wavelength": 337.5, "absorbance": 0.49},
      {"series": "PIF-TPA in Film", "wavelength": 340, "absorbance": 0.54},
      {"series": "PIF-TPA in Film", "wavelength": 342.8, "absorbance": 0.62},
      {"series": "PIF-TPA in Film", "wavelength": 345.4, "absorbance": 0.7},
      {"series": "PIF-TPA in Film", "wavelength": 348, "absorbance": 0.76},
      {"series": "PIF-TPA in Film", "wavelength": 350, "absorbance": 0.82},
      {"series": "PIF-TPA in Film", "wavelength": 352, "absorbance": 0.87},
      {"series": "PIF-TPA in Film", "wavelength": 354, "absorbance": 0.91},
      {"series": "PIF-TPA in Film", "wavelength": 356.5, "absorbance": 0.94},
      {"series": "PIF-TPA in Film", "wavelength": 359, "absorbance": 0.965},
      {"series": "PIF-TPA in Film", "wavelength": 362, "absorbance": 0.975},
      {"series": "PIF-TPA in Film", "wavelength": 365, "absorbance": 0.98},
      {"series": "PIF-TPA in Film", "wavelength": 368, "absorbance": 0.985},
      {"series": "PIF-TPA in Film", "wavelength": 371, "absorbance": 0.99},
      {"series": "PIF-TPA in Film", "wavelength": 373.5, "absorbance": 0.997},
      {"series": "PIF-TPA in Film", "wavelength": 375.5, "absorbance": 1.0},
      {"series": "PIF-TPA in Film", "wavelength": 377.5, "absorbance": 0.99},
      {"series": "PIF-TPA in Film", "wavelength": 379, "absorbance": 0.975},
      {"series": "PIF-TPA in Film", "wavelength": 380.5, "absorbance": 0.955},
      {"series": "PIF-TPA in Film", "wavelength": 382, "absorbance": 0.92},
      {"series": "PIF-TPA in Film", "wavelength": 383.3, "absorbance": 0.875},
      {"series": "PIF-TPA in Film", "wavelength": 384.2, "absorbance": 0.83},
      {"series": "PIF-TPA in Film", "wavelength": 385, "absorbance": 0.76},
      {"series": "PIF-TPA in Film", "wavelength": 386, "absorbance": 0.67},
      {"series": "PIF-TPA in Film", "wavelength": 387, "absorbance": 0.59},
      {"series": "PIF-TPA in Film", "wavelength": 388, "absorbance": 0.5},
      {"series": "PIF-TPA in Film", "wavelength": 389, "absorbance": 0.42},
      {"series": "PIF-TPA in Film", "wavelength": 390, "absorbance": 0.36},
      {"series": "PIF-TPA in Film", "wavelength": 391.5, "absorbance": 0.31},
      {"series": "PIF-TPA in Film", "wavelength": 393, "absorbance": 0.26},
      {"series": "PIF-TPA in Film", "wavelength": 394.5, "absorbance": 0.22},
      {"series": "PIF-TPA in Film", "wavelength": 396, "absorbance": 0.195},
      {"series": "PIF-TPA in Film", "wavelength": 397, "absorbance": 0.178},
      {"series": "PIF-TPA in Film", "wavelength": 399, "absorbance": 0.148},
      {"series": "PIF-TPA in Film", "wavelength": 402, "absorbance": 0.12},
      {"series": "PIF-TPA in Film", "wavelength": 405, "absorbance": 0.105},
      {"series": "PIF-TPA in Film", "wavelength": 408.5, "absorbance": 0.09},
      {"series": "PIF-TPA in Film", "wavelength": 411, "absorbance": 0.078},
      {"series": "PIF-TPA in Film", "wavelength": 414, "absorbance": 0.065},
      {"series": "PIF-TPA in Film", "wavelength": 417, "absorbance": 0.052},
      {"series": "PIF-TPA in Film", "wavelength": 420, "absorbance": 0.044},
      {"series": "PIF-TPA in Film", "wavelength": 423, "absorbance": 0.038},
      {"series": "PIF-TPA in Film", "wavelength": 426, "absorbance": 0.034},
      {"series": "PIF-TPA in Film", "wavelength": 430, "absorbance": 0.032},
      {"series": "PIF-TPA in Film", "wavelength": 435, "absorbance": 0.03},
      {"series": "PIF-TPA in Film", "wavelength": 440, "absorbance": 0.029},
      {"series": "PIF-TPA in Film", "wavelength": 450, "absorbance": 0.028},
      {"series": "PIF-TPA in Film", "wavelength": 460, "absorbance": 0.027},
      {"series": "PIF-TPA in Film", "wavelength": 470, "absorbance": 0.026},
      {"series": "PIF-TPA in Film", "wavelength": 480, "absorbance": 0.026},
      {"series": "PIF-TPA in Film", "wavelength": 490, "absorbance": 0.025},
      {"series": "PIF-TPA in Film", "wavelength": 500, "absorbance": 0.025},
      {"series": "PIF-TPA in Film", "wavelength": 510, "absorbance": 0.024},
      {"series": "PIF-TPA in Film", "wavelength": 520, "absorbance": 0.024},
      {"series": "PIF-TPA in Film", "wavelength": 530, "absorbance": 0.023},
      {"series": "PIF-TPA in Film", "wavelength": 540, "absorbance": 0.023},
      {"series": "PIF-TPA in Film", "wavelength": 550, "absorbance": 0.023},
      {"series": "PIF-TPA in Film", "wavelength": 560, "absorbance": 0.022},
      {"series": "PIF-TPA in Film", "wavelength": 570, "absorbance": 0.022},
      {"series": "PIF-TPA in Film", "wavelength": 580, "absorbance": 0.022},
      {"series": "PIF-TPA in Film", "wavelength": 590, "absorbance": 0.022},
      {"series": "PIF-TPA in Film", "wavelength": 600, "absorbance": 0.021},
      {"series": "PIF-DPE in film", "wavelength": 329.5, "absorbance": 0.11},
      {"series": "PIF-DPE in film", "wavelength": 332, "absorbance": 0.106},
      {"series": "PIF-DPE in film", "wavelength": 334, "absorbance": 0.115},
      {"series": "PIF-DPE in film", "wavelength": 336, "absorbance": 0.14},
      {"series": "PIF-DPE in film", "wavelength": 338, "absorbance": 0.165},
      {"series": "PIF-DPE in film", "wavelength": 340, "absorbance": 0.19},
      {"series": "PIF-DPE in film", "wavelength": 342.8, "absorbance": 0.22},
      {"series": "PIF-DPE in film", "wavelength": 345, "absorbance": 0.255},
      {"series": "PIF-DPE in film", "wavelength": 348, "absorbance": 0.3},
      {"series": "PIF-DPE in film", "wavelength": 351.2, "absorbance": 0.35},
      {"series": "PIF-DPE in film", "wavelength": 354, "absorbance": 0.39},
      {"series": "PIF-DPE in film", "wavelength": 357, "absorbance": 0.425},
      {"series": "PIF-DPE in film", "wavelength": 361, "absorbance": 0.477},
      {"series": "PIF-DPE in film", "wavelength": 364, "absorbance": 0.53},
      {"series": "PIF-DPE in film", "wavelength": 367, "absorbance": 0.585},
      {"series": "PIF-DPE in film", "wavelength": 369.3, "absorbance": 0.627},
      {"series": "PIF-DPE in film", "wavelength": 372, "absorbance": 0.67},
      {"series": "PIF-DPE in film", "wavelength": 375, "absorbance": 0.72},
      {"series": "PIF-DPE in film", "wavelength": 379, "absorbance": 0.79},
      {"series": "PIF-DPE in film", "wavelength": 381, "absorbance": 0.83},
      {"series": "PIF-DPE in film", "wavelength": 383.3, "absorbance": 0.868},
      {"series": "PIF-DPE in film", "wavelength": 385.5, "absorbance": 0.89},
      {"series": "PIF-DPE in film", "wavelength": 387.5, "absorbance": 0.91},
      {"series": "PIF-DPE in film", "wavelength": 390, "absorbance": 0.93},
      {"series": "PIF-DPE in film", "wavelength": 392, "absorbance": 0.947},
      {"series": "PIF-DPE in film", "wavelength": 395, "absorbance": 0.965},
      {"series": "PIF-DPE in film", "wavelength": 397, "absorbance": 0.978},
      {"series": "PIF-DPE in film", "wavelength": 400, "absorbance": 0.983},
      {"series": "PIF-DPE in film", "wavelength": 402, "absorbance": 0.988},
      {"series": "PIF-DPE in film", "wavelength": 404, "absorbance": 0.995},
      {"series": "PIF-DPE in film", "wavelength": 405.5, "absorbance": 1.0},
      {"series": "PIF-DPE in film", "wavelength": 407, "absorbance": 0.995},
      {"series": "PIF-DPE in film", "wavelength": 409, "absorbance": 0.978},
      {"series": "PIF-DPE in film", "wavelength": 410.5, "absorbance": 0.96},
      {"series": "PIF-DPE in film", "wavelength": 412, "absorbance": 0.935},
      {"series": "PIF-DPE in film", "wavelength": 413.5, "absorbance": 0.9},
      {"series": "PIF-DPE in film", "wavelength": 415, "absorbance": 0.86},
      {"series": "PIF-DPE in film", "wavelength": 416.5, "absorbance": 0.81},
      {"series": "PIF-DPE in film", "wavelength": 418, "absorbance": 0.75},
      {"series": "PIF-DPE in film", "wavelength": 419.5, "absorbance": 0.68},
      {"series": "PIF-DPE in film", "wavelength": 421, "absorbance": 0.61},
      {"series": "PIF-DPE in film", "wavelength": 422.5, "absorbance": 0.54},
      {"series": "PIF-DPE in film", "wavelength": 423.6, "absorbance": 0.48},
      {"series": "PIF-DPE in film", "wavelength": 425, "absorbance": 0.42},
      {"series": "PIF-DPE in film", "wavelength": 426.2, "absorbance": 0.373},
      {"series": "PIF-DPE in film", "wavelength": 427.5, "absorbance": 0.325},
      {"series": "PIF-DPE in film", "wavelength": 428.8, "absorbance": 0.278},
      {"series": "PIF-DPE in film", "wavelength": 430, "absorbance": 0.245},
      {"series": "PIF-DPE in film", "wavelength": 431.4, "absorbance": 0.218},
      {"series": "PIF-DPE in film", "wavelength": 433, "absorbance": 0.175},
      {"series": "PIF-DPE in film", "wavelength": 434, "absorbance": 0.16},
      {"series": "PIF-DPE in film", "wavelength": 435.5, "absorbance": 0.137},
      {"series": "PIF-DPE in film", "wavelength": 437, "absorbance": 0.117},
      {"series": "PIF-DPE in film", "wavelength": 439, "absorbance": 0.09},
      {"series": "PIF-DPE in film", "wavelength": 441, "absorbance": 0.072},
      {"series": "PIF-DPE in film", "wavelength": 442.2, "absorbance": 0.064},
      {"series": "PIF-DPE in film", "wavelength": 445, "absorbance": 0.058},
      {"series": "PIF-DPE in film", "wavelength": 448, "absorbance": 0.053},
      {"series": "PIF-DPE in film", "wavelength": 450.5, "absorbance": 0.05},
      {"series": "PIF-DPE in film", "wavelength": 455, "absorbance": 0.042},
      {"series": "PIF-DPE in film", "wavelength": 461, "absorbance": 0.035},
      {"series": "PIF-DPE in film", "wavelength": 467, "absorbance": 0.032},
      {"series": "PIF-DPE in film", "wavelength": 473, "absorbance": 0.031},
      {"series": "PIF-DPE in film", "wavelength": 480, "absorbance": 0.03},
      {"series": "PIF-DPE in film", "wavelength": 490, "absorbance": 0.029},
      {"series": "PIF-DPE in film", "wavelength": 500, "absorbance": 0.029},
      {"series": "PIF-DPE in film", "wavelength": 510, "absorbance": 0.028},
      {"series": "PIF-DPE in film", "wavelength": 520, "absorbance": 0.028},
      {"series": "PIF-DPE in film", "wavelength": 530, "absorbance": 0.027},
      {"series": "PIF-DPE in film", "wavelength": 540, "absorbance": 0.027},
      {"series": "PIF-DPE in film", "wavelength": 550, "absorbance": 0.027},
      {"series": "PIF-DPE in film", "wavelength": 560, "absorbance": 0.026},
      {"series": "PIF-DPE in film", "wavelength": 570, "absorbance": 0.026},
      {"series": "PIF-DPE in film", "wavelength": 580, "absorbance": 0.026},
      {"series": "PIF-DPE in film", "wavelength": 590, "absorbance": 0.025},
      {"series": "PIF-DPE in film", "wavelength": 600, "absorbance": 0.025}
    ],
    "bMarks": [
      {"curve": "PIF-CZO in Film", "wavelength": 331, "absorbance": 0.395},
      {"curve": "PIF-CZO in Film", "wavelength": 335, "absorbance": 0.366},
      {"curve": "PIF-CZO in Film", "wavelength": 339, "absorbance": 0.41},
      {"curve": "PIF-CZO in Film", "wavelength": 343, "absorbance": 0.5},
      {"curve": "PIF-CZO in Film", "wavelength": 347.5, "absorbance": 0.6},
      {"curve": "PIF-CZO in Film", "wavelength": 351.5, "absorbance": 0.7},
      {"curve": "PIF-CZO in Film", "wavelength": 356, "absorbance": 0.81},
      {"curve": "PIF-CZO in Film", "wavelength": 361, "absorbance": 0.884},
      {"curve": "PIF-CZO in Film", "wavelength": 365, "absorbance": 0.96},
      {"curve": "PIF-CZO in Film", "wavelength": 369.5, "absorbance": 0.994},
      {"curve": "PIF-CZO in Film", "wavelength": 374, "absorbance": 0.985},
      {"curve": "PIF-CZO in Film", "wavelength": 378, "absorbance": 0.958},
      {"curve": "PIF-CZO in Film", "wavelength": 382.5, "absorbance": 0.952},
      {"curve": "PIF-CZO in Film", "wavelength": 387, "absorbance": 0.967},
      {"curve": "PIF-CZO in Film", "wavelength": 391, "absorbance": 0.96},
      {"curve": "PIF-CZO in Film", "wavelength": 395.5, "absorbance": 0.905},
      {"curve": "PIF-CZO in Film", "wavelength": 401.4, "absorbance": 0.733},
      {"curve": "PIF-CZO in Film", "wavelength": 405.5, "absorbance": 0.535},
      {"curve": "PIF-CZO in Film", "wavelength": 409, "absorbance": 0.33},
      {"curve": "PIF-CZO in Film", "wavelength": 413, "absorbance": 0.18},
      {"curve": "PIF-CZO in Film", "wavelength": 417, "absorbance": 0.1},
      {"curve": "PIF-CZO in Film", "wavelength": 421, "absorbance": 0.06},
      {"curve": "PIF-CZO in Film", "wavelength": 426, "absorbance": 0.04},
      {"curve": "PIF-CZO in Film", "wavelength": 432, "absorbance": 0.026},
      {"curve": "PIF-CZO in Film", "wavelength": 440, "absorbance": 0.016},
      {"curve": "PIF-CZO in Film", "wavelength": 448, "absorbance": 0.01},
      {"curve": "PIF-CZO in Film", "wavelength": 456, "absorbance": 0.005},
      {"curve": "PIF-CZO in Film", "wavelength": 464, "absorbance": 0.001},
      {"curve": "PIF-CZO in Film", "wavelength": 472, "absorbance": -0.003},
      {"curve": "PIF-CZO in Film", "wavelength": 480, "absorbance": -0.006},
      {"curve": "PIF-CZO in Film", "wavelength": 488, "absorbance": -0.008},
      {"curve": "PIF-CZO in Film", "wavelength": 496, "absorbance": -0.01},
      {"curve": "PIF-CZO in Film", "wavelength": 504, "absorbance": -0.011},
      {"curve": "PIF-CZO in Film", "wavelength": 512, "absorbance": -0.012},
      {"curve": "PIF-CZO in Film", "wavelength": 520, "absorbance": -0.013},
      {"curve": "PIF-CZO in Film", "wavelength": 528, "absorbance": -0.014},
      {"curve": "PIF-CZO in Film", "wavelength": 536, "absorbance": -0.015},
      {"curve": "PIF-CZO in Film", "wavelength": 544, "absorbance": -0.016},
      {"curve": "PIF-TPA in Film", "wavelength": 332, "absorbance": 0.415},
      {"curve": "PIF-TPA in Film", "wavelength": 337.5, "absorbance": 0.49},
      {"curve": "PIF-TPA in Film", "wavelength": 343, "absorbance": 0.625},
      {"curve": "PIF-TPA in Film", "wavelength": 348, "absorbance": 0.76},
      {"curve": "PIF-TPA in Film", "wavelength": 353.5, "absorbance": 0.9},
      {"curve": "PIF-TPA in Film", "wavelength": 359, "absorbance": 0.965},
      {"curve": "PIF-TPA in Film", "wavelength": 364.5, "absorbance": 0.98},
      {"curve": "PIF-TPA in Film", "wavelength": 370, "absorbance": 0.988},
      {"curve": "PIF-TPA in Film", "wavelength": 375.5, "absorbance": 1.0},
      {"curve": "PIF-TPA in Film", "wavelength": 381, "absorbance": 0.94},
      {"curve": "PIF-TPA in Film", "wavelength": 384.2, "absorbance": 0.83},
      {"curve": "PIF-TPA in Film", "wavelength": 385, "absorbance": 0.76},
      {"curve": "PIF-TPA in Film", "wavelength": 387, "absorbance": 0.59},
      {"curve": "PIF-TPA in Film", "wavelength": 390, "absorbance": 0.36},
      {"curve": "PIF-TPA in Film", "wavelength": 393, "absorbance": 0.26},
      {"curve": "PIF-TPA in Film", "wavelength": 397, "absorbance": 0.178},
      {"curve": "PIF-TPA in Film", "wavelength": 402, "absorbance": 0.12},
      {"curve": "PIF-TPA in Film", "wavelength": 405.5, "absorbance": 0.103},
      {"curve": "PIF-TPA in Film", "wavelength": 409, "absorbance": 0.087},
      {"curve": "PIF-TPA in Film", "wavelength": 414, "absorbance": 0.065},
      {"curve": "PIF-TPA in Film", "wavelength": 419, "absorbance": 0.047},
      {"curve": "PIF-TPA in Film", "wavelength": 425, "absorbance": 0.035},
      {"curve": "PIF-TPA in Film", "wavelength": 431, "absorbance": 0.031},
      {"curve": "PIF-TPA in Film", "wavelength": 437, "absorbance": 0.03},
      {"curve": "PIF-TPA in Film", "wavelength": 443, "absorbance": 0.029},
      {"curve": "PIF-TPA in Film", "wavelength": 449, "absorbance": 0.028},
      {"curve": "PIF-TPA in Film", "wavelength": 455, "absorbance": 0.028},
      {"curve": "PIF-TPA in Film", "wavelength": 461, "absorbance": 0.027},
      {"curve": "PIF-TPA in Film", "wavelength": 467, "absorbance": 0.026},
      {"curve": "PIF-TPA in Film", "wavelength": 473, "absorbance": 0.026},
      {"curve": "PIF-TPA in Film", "wavelength": 479, "absorbance": 0.026},
      {"curve": "PIF-TPA in Film", "wavelength": 485, "absorbance": 0.025},
      {"curve": "PIF-TPA in Film", "wavelength": 491, "absorbance": 0.025},
      {"curve": "PIF-TPA in Film", "wavelength": 497, "absorbance": 0.025},
      {"curve": "PIF-TPA in Film", "wavelength": 503, "absorbance": 0.025},
      {"curve": "PIF-TPA in Film", "wavelength": 509, "absorbance": 0.024},
      {"curve": "PIF-TPA in Film", "wavelength": 515, "absorbance": 0.024},
      {"curve": "PIF-TPA in Film", "wavelength": 521, "absorbance": 0.024},
      {"curve": "PIF-TPA in Film", "wavelength": 527, "absorbance": 0.023},
      {"curve": "PIF-TPA in Film", "wavelength": 533, "absorbance": 0.023},
      {"curve": "PIF-TPA in Film", "wavelength": 539, "absorbance": 0.023},
      {"curve": "PIF-TPA in Film", "wavelength": 545, "absorbance": 0.023},
      {"curve": "PIF-TPA in Film", "wavelength": 551, "absorbance": 0.023},
      {"curve": "PIF-TPA in Film", "wavelength": 557, "absorbance": 0.022},
      {"curve": "PIF-TPA in Film", "wavelength": 563, "absorbance": 0.022},
      {"curve": "PIF-TPA in Film", "wavelength": 569, "absorbance": 0.022},
      {"curve": "PIF-TPA in Film", "wavelength": 575, "absorbance": 0.022},
      {"curve": "PIF-TPA in Film", "wavelength": 581, "absorbance": 0.022},
      {"curve": "PIF-TPA in Film", "wavelength": 587, "absorbance": 0.022},
      {"curve": "PIF-TPA in Film", "wavelength": 593, "absorbance": 0.022},
      {"curve": "PIF-TPA in Film", "wavelength": 599, "absorbance": 0.021},
      {"curve": "PIF-DPE in film", "wavelength": 332, "absorbance": 0.106},
      {"curve": "PIF-DPE in film", "wavelength": 342.8, "absorbance": 0.22},
      {"curve": "PIF-DPE in film", "wavelength": 351.2, "absorbance": 0.35},
      {"curve": "PIF-DPE in film", "wavelength": 361, "absorbance": 0.477},
      {"curve": "PIF-DPE in film", "wavelength": 369.3, "absorbance": 0.627},
      {"curve": "PIF-DPE in film", "wavelength": 379, "absorbance": 0.79},
      {"curve": "PIF-DPE in film", "wavelength": 387.5, "absorbance": 0.91},
      {"curve": "PIF-DPE in film", "wavelength": 396.5, "absorbance": 0.975},
      {"curve": "PIF-DPE in film", "wavelength": 405.5, "absorbance": 1.0},
      {"curve": "PIF-DPE in film", "wavelength": 415, "absorbance": 0.86},
      {"curve": "PIF-DPE in film", "wavelength": 423.6, "absorbance": 0.48},
      {"curve": "PIF-DPE in film", "wavelength": 433.8, "absorbance": 0.163},
      {"curve": "PIF-DPE in film", "wavelength": 442.2, "absorbance": 0.064},
      {"curve": "PIF-DPE in film", "wavelength": 450.5, "absorbance": 0.05},
      {"curve": "PIF-DPE in film", "wavelength": 459, "absorbance": 0.037},
      {"curve": "PIF-DPE in film", "wavelength": 467.5, "absorbance": 0.032},
      {"curve": "PIF-DPE in film", "wavelength": 476, "absorbance": 0.031},
      {"curve": "PIF-DPE in film", "wavelength": 484.5, "absorbance": 0.03},
      {"curve": "PIF-DPE in film", "wavelength": 493, "absorbance": 0.029},
      {"curve": "PIF-DPE in film", "wavelength": 501.5, "absorbance": 0.029},
      {"curve": "PIF-DPE in film", "wavelength": 510, "absorbance": 0.028},
      {"curve": "PIF-DPE in film", "wavelength": 518.5, "absorbance": 0.028},
      {"curve": "PIF-DPE in film", "wavelength": 527, "absorbance": 0.027},
      {"curve": "PIF-DPE in film", "wavelength": 535.5, "absorbance": 0.027},
      {"curve": "PIF-DPE in film", "wavelength": 544, "absorbance": 0.027},
      {"curve": "PIF-DPE in film", "wavelength": 552.5, "absorbance": 0.027},
      {"curve": "PIF-DPE in film", "wavelength": 561, "absorbance": 0.026},
      {"curve": "PIF-DPE in film", "wavelength": 569.5, "absorbance": 0.026},
      {"curve": "PIF-DPE in film", "wavelength": 578, "absorbance": 0.026},
      {"curve": "PIF-DPE in film", "wavelength": 586.5, "absorbance": 0.025},
      {"curve": "PIF-DPE in film", "wavelength": 595, "absorbance": 0.025}
    ]
  }
}
